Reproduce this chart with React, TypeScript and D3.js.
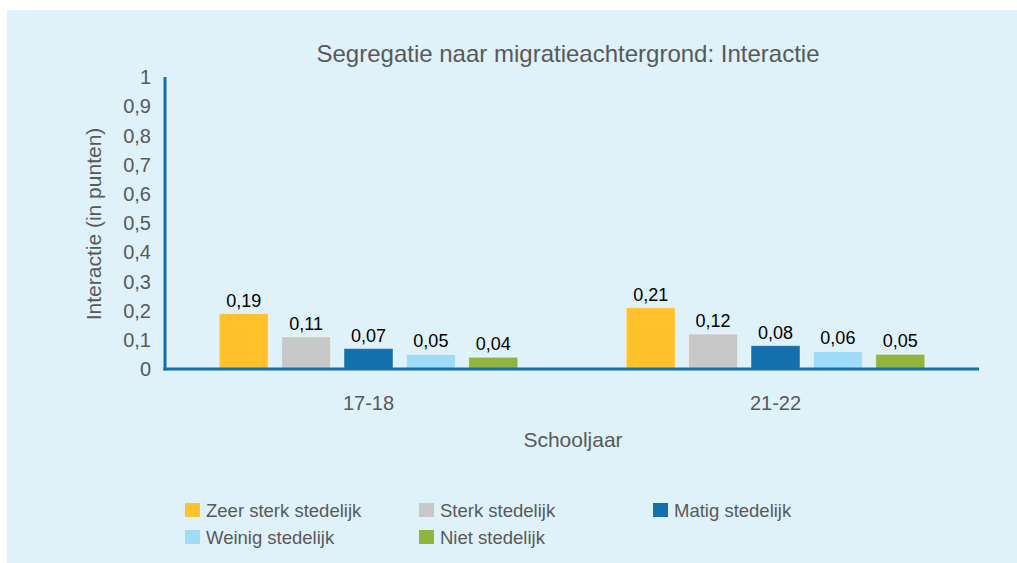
import React from "react";
import * as d3 from "d3";

const categories = ["17-18", "21-22"];
const seriesNames = [
  "Zeer sterk stedelijk",
  "Sterk stedelijk",
  "Matig stedelijk",
  "Weinig stedelijk",
  "Niet stedelijk",
];
const seriesColors = ["#FFC22B", "#C8C8C8", "#1470AD", "#9FDCF7", "#92B33E"];
const values1718 = [0.19, 0.11, 0.07, 0.05, 0.04];
const values2122 = [0.21, 0.12, 0.08, 0.06, 0.05];
const yTicks = [0, 0.1, 0.2, 0.3, 0.4, 0.5, 0.6, 0.7, 0.8, 0.9, 1];

const W = 1017;
const H = 563;
const FONT = "'Liberation Sans', Arial, sans-serif";
const GREY = "#595959";
const AXIS = "#1470AD";

export default function App() {
  const valuesByCat = [values1718, values2122];
  const x0 = d3.scaleBand<string>().domain(categories).range([165, 979]).padding(0);
  const x1 = d3
    .scaleBand<string>()
    .domain(seriesNames)
    .range([0, x0.bandwidth()])
    .paddingInner(0.215)
    .paddingOuter(0.869);
  const y = d3.scaleLinear().domain([0, 1]).range([369, 77]);
  const fmt = (v: number) => (v === 0 ? "0" : v === 1 ? "1" : d3.format(".1f")(v).replace(".", ","));
  const fmt2 = (v: number) => d3.format(".2f")(v).replace(".", ",");

  const legendPos = [
    [185, 503],
    [419, 503],
    [653, 503],
    [185, 530],
    [419, 530],
  ];

  return (
    <svg
      width={W}
      height={H}
      style={{ position: "absolute", left: 0, top: 0, fontFamily: FONT }}
    >
      <rect x={0} y={0} width={W} height={H} fill="#ffffff" />
      <rect x={7} y={10} width={W - 7} height={H - 10} fill="#DFF2FA" />
      <text x={568} y={62} textAnchor="middle" fontSize={24} fill={GREY}>
        Segregatie naar migratieachtergrond: Interactie
      </text>
      {yTicks.map((t) => (
        <text key={t} x={151} y={y(t)} dy="0.36em" textAnchor="end" fontSize={20} fill={GREY}>
          {fmt(t)}
        </text>
      ))}
      <text
        transform={`translate(101,${224}) rotate(-90)`}
        textAnchor="middle"
        fontSize={21}
        fill={GREY}
      >
        Interactie (in punten)
      </text>
      {categories.map((c, ci) => (
        <g key={c} transform={`translate(${x0(c)},0)`}>
          {seriesNames.map((s, si) => {
            const v = valuesByCat[ci][si];
            const bx = x1(s)!;
            return (
              <g key={s}>
                <rect
                  x={bx}
                  y={y(v)}
                  width={x1.bandwidth()}
                  height={y(0) - y(v)}
                  fill={seriesColors[si]}
                  stroke="#ffffff"
                  strokeOpacity={0.4}
                  strokeWidth={1}
                />
                <text
                  x={bx + x1.bandwidth() / 2}
                  y={y(v) - 7}
                  textAnchor="middle"
                  fontSize={18}
                  fill="#000000"
                >
                  {fmt2(v)}
                </text>
              </g>
            );
          })}
          <text
            x={x0.bandwidth() / 2}
            y={410}
            textAnchor="middle"
            fontSize={20}
            fill={GREY}
          >
            {c}
          </text>
        </g>
      ))}
      <line x1={165} x2={165} y1={77} y2={370.5} stroke={AXIS} strokeWidth={3} />
      <line x1={163.5} x2={979} y1={369} y2={369} stroke={AXIS} strokeWidth={3} />
      <text x={573} y={447} textAnchor="middle" fontSize={21} fill={GREY}>
        Schooljaar
      </text>
      {seriesNames.map((s, i) => (
        <g key={s} transform={`translate(${legendPos[i][0]},${legendPos[i][1]})`}>
          <rect x={0} y={0} width={15} height={14} fill={seriesColors[i]} />
          <text x={21} y={13.5} fontSize={18.5} fill={GREY}>
            {s}
          </text>
        </g>
      ))}
    </svg>
  );
}
